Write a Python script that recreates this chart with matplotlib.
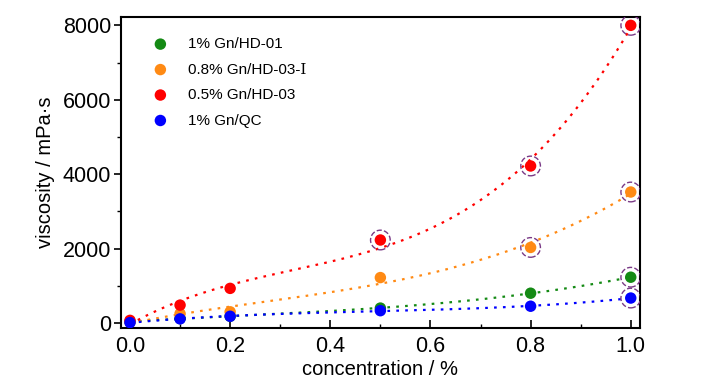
import numpy as np
import matplotlib.pyplot as plt

plt.rcParams['font.family'] = ['Liberation Sans', 'DejaVu Serif']

conc = [0.0, 0.1, 0.2, 0.5, 0.8, 1.0]
visc_hd01 = [30, 120, 180, 400, 800, 1230]
visc_hd03i = [30, 250, 300, 1220, 2030, 3520]
visc_hd03 = [70, 480, 930, 2230, 4220, 8000]
visc_qc = [10, 110, 180, 330, 450, 670]

labels = ["1% Gn/HD-01", "0.8% Gn/HD-03-\u2160", "0.5% Gn/HD-03", "1% Gn/QC"]
colors = ["#148a14", "#ff8a14", "#ff0000", "#0000ff"]
series = [visc_hd01, visc_hd03i, visc_hd03, visc_qc]

# points marked with dashed circles (series index, point index)
circled = [(2, 3), (2, 4), (2, 5), (1, 4), (1, 5), (0, 5), (3, 5)]

fig = plt.figure(figsize=(7.27, 3.9), dpi=100)
ax = fig.add_axes([0.1664, 0.159, 0.7136, 0.797])

xx = np.linspace(0, 1, 200)
x = np.array(conc)
for vals, c in zip(series, colors):
    p = np.polyfit(x, np.array(vals), 3)
    ax.plot(xx, np.polyval(p, xx), color=c, lw=1.6, ls=(0, (1.2, 2.8)), zorder=2)

handles = []
for vals, c, lab in zip(series, colors, labels):
    h = ax.scatter(conc, vals, s=68, color=c, zorder=3, label=lab, edgecolors='none')
    handles.append(h)

for si, pi in circled:
    ax.scatter([conc[pi]], [series[si][pi]], s=200, facecolors='none',
               edgecolors='#7a3a86', linewidths=1.0, linestyle='--', zorder=4)

ax.set_xlim(-0.018, 1.018)
ax.set_ylim(-135, 8220)
ax.set_xticks([0.0, 0.2, 0.4, 0.6, 0.8, 1.0])
ax.set_xticks([0.1, 0.3, 0.5, 0.7, 0.9], minor=True)
ax.set_yticks([0, 2000, 4000, 6000, 8000])
ax.set_yticks([1000, 3000, 5000, 7000], minor=True)
ax.xaxis.set_major_formatter(plt.FormatStrFormatter('%.1f'))

ax.tick_params(axis='x', which='major', direction='in', length=6, width=1.2, labelsize=15.5, pad=6)
ax.tick_params(axis='x', which='minor', direction='in', length=3, width=1.0)
ax.tick_params(axis='y', which='major', direction='out', length=5, width=1.2, labelsize=15.5, pad=2)
ax.tick_params(axis='y', which='minor', direction='out', length=3, width=1.0)
for sp in ax.spines.values():
    sp.set_linewidth(1.5)

ax.set_xlabel("concentration / %", fontsize=14.5, labelpad=2)
ax.set_ylabel("viscosity / mPa\u00b7s", fontsize=14.5, labelpad=6)

ax.legend(handles=handles, loc='upper left', bbox_to_anchor=(0.02, 0.98), frameon=False,
          fontsize=11, handletextpad=0.8, labelspacing=0.75, scatterpoints=1)

fig.savefig("out.png", dpi=100)
